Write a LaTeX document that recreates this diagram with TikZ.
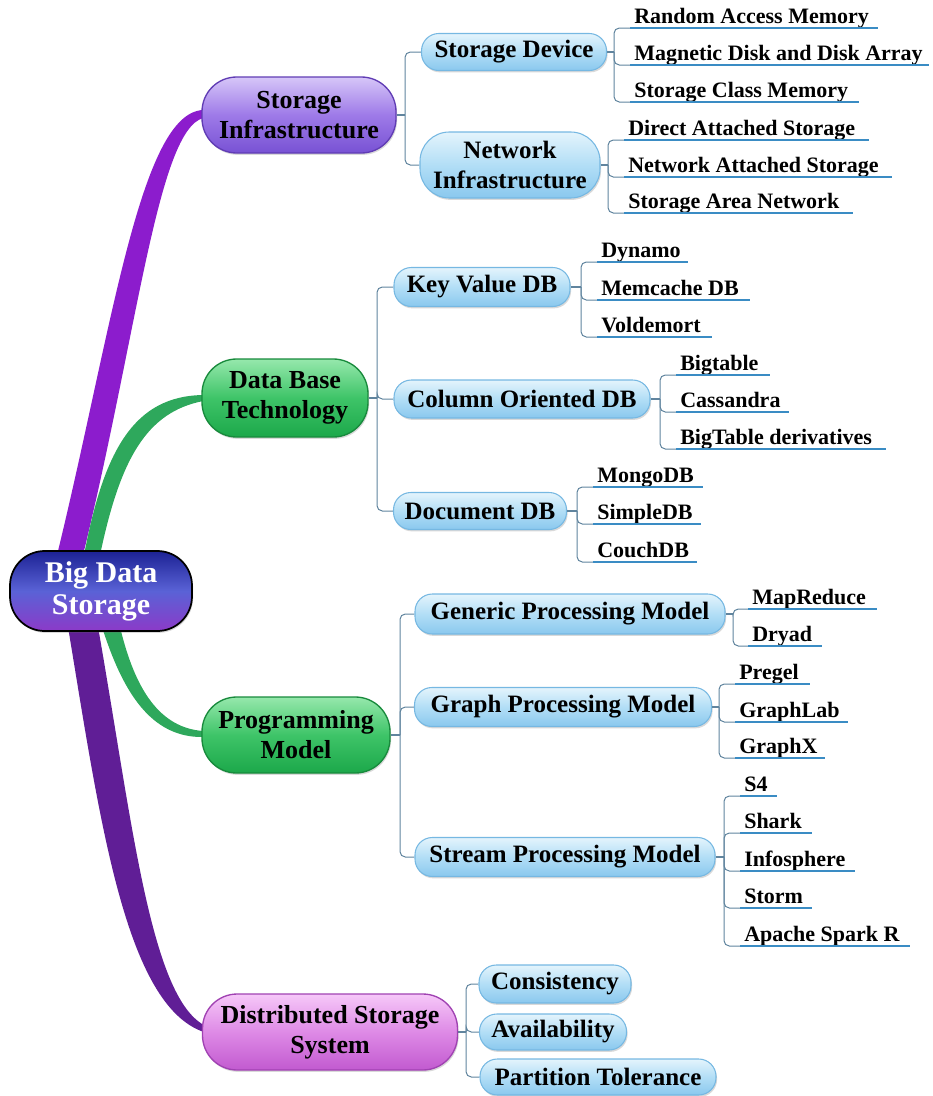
\documentclass[tikz,border=0pt]{standalone}
\usepackage{fontspec}
\setmainfont{Liberation Serif}
\usetikzlibrary{shadows,calc}
\pgfdeclarelayer{bg}
\pgfsetlayers{bg,main}

\definecolor{siTop}{RGB}{214,198,248}
\definecolor{siMid}{RGB}{158,122,232}
\definecolor{siBot}{RGB}{120,82,212}
\definecolor{siLine}{RGB}{96,60,180}
\definecolor{grTop}{RGB}{150,232,172}
\definecolor{grMid}{RGB}{62,196,104}
\definecolor{grBot}{RGB}{28,168,74}
\definecolor{grLine}{RGB}{24,138,60}
\definecolor{dsTop}{RGB}{246,200,248}
\definecolor{dsMid}{RGB}{222,138,230}
\definecolor{dsBot}{RGB}{194,90,208}
\definecolor{dsLine}{RGB}{160,66,178}
\definecolor{rtTop}{RGB}{28,34,148}
\definecolor{rtMid}{RGB}{90,98,214}
\definecolor{rtBot}{RGB}{140,58,200}
\definecolor{sbTop}{RGB}{228,244,252}
\definecolor{sbMid}{RGB}{178,222,246}
\definecolor{sbBot}{RGB}{138,200,238}
\definecolor{sbLine}{RGB}{118,184,226}
\definecolor{brPurple}{RGB}{140,28,205}
\definecolor{brDark}{RGB}{96,30,150}
\definecolor{brGreen}{RGB}{46,168,92}
\definecolor{connC}{RGB}{96,132,158}
\definecolor{ulC}{RGB}{58,140,196}

\tikzset{
  px/.style 2 args={minimum width=#1*0.75pt, minimum height=#2*0.75pt},
  softshadow/.style={drop shadow={shadow xshift=0.8pt, shadow yshift=-1.4pt, opacity=0.25, fill=black!60}},
  mainbox/.style={draw, line width=1pt, rounded corners=26pt, align=center, inner sep=0pt,
    softshadow, font=\fontsize{19.5}{22.5}\selectfont\bfseries},
  rootnode/.style={mainbox, draw=black, line width=1.3pt, top color=rtTop, bottom color=rtBot, middle color=rtMid,
    text=white, font=\fontsize{22.5}{24}\selectfont\bfseries},
  sinode/.style={mainbox, draw=siLine, top color=siTop, bottom color=siBot, middle color=siMid},
  grnode/.style={mainbox, draw=grLine, top color=grTop, bottom color=grBot, middle color=grMid},
  dsnode/.style={mainbox, draw=dsLine, top color=dsTop, bottom color=dsBot, middle color=dsMid},
  subnode/.style={draw=sbLine, line width=0.8pt, rounded corners=13pt, align=center, inner sep=0pt,
    top color=sbTop, bottom color=sbBot, middle color=sbMid, softshadow,
    font=\fontsize{18.75}{22.5}\selectfont\bfseries},
  leaf/.style={inner sep=0pt, font=\fontsize{16.5}{18}\selectfont\bfseries},
  conn/.style={draw=connC, line width=0.8pt},
  thinconn/.style={draw=connC, line width=0.75pt, rounded corners=4pt},
  uline/.style={draw=ulC, line width=2.2pt}
}

\newcommand{\mkleaf}[6]{%
  \node[leaf, anchor=base west] (#1) at (#3+4,#4-5) {#6};
  \coordinate (#1s) at (#3,#4);
  \coordinate (#1e) at (#5,#4);
  \begin{pgfonlayer}{bg}
    \draw[thinconn] (#2) |- (#1s);
  \end{pgfonlayer}
  \draw[uline] (#1s) -- (#1e);
}

\begin{document}
\begin{tikzpicture}[x=0.75pt,y=-0.75pt]
\useasboundingbox (0,0) rectangle (932,1096);

% ---------- main nodes ----------
\node[rootnode, px={182}{80}] (root) at (101,591) {Big Data\\Storage};
\node[sinode, px={194}{76}] (si) at (299,115) {Storage\\Infrastructure};
\node[grnode, px={166}{78}] (dbt) at (285,398) {Data Base\\Technology};
\node[grnode, px={188}{76}] (pm) at (296,735) {Programming\\Model};
\node[dsnode, px={255}{76}] (dss) at (330,1032) {Distributed Storage\\System};

% ---------- sub nodes ----------
\node[subnode, px={185}{37}] (sd) at (514,52) {Storage Device};
\node[subnode, px={180}{66}, rounded corners=22pt] (ni) at (510,165) {Network\\Infrastructure};
\node[subnode, px={176}{39}] (kv) at (482,287) {Key Value DB};
\node[subnode, px={256}{38}] (co) at (522,399) {Column Oriented DB};
\node[subnode, px={173}{37}] (doc) at (480,511) {Document DB};
\node[subnode, px={310}{40}] (gen) at (570,614) {Generic Processing Model};
\node[subnode, px={297}{39}] (gra) at (563,707) {Graph Processing Model};
\node[subnode, px={300}{39}] (str) at (565,857) {Stream Processing Model};
\node[subnode, px={152}{38}] (con) at (555,984) {Consistency};
\node[subnode, px={147}{36}] (ava) at (553,1032) {Availability};
\node[subnode, px={236}{36}] (pt) at (598,1077) {Partition Tolerance};

% ---------- trunk points ----------
\coordinate (sit) at (405,115);
\coordinate (dbtt) at (377,398);
\coordinate (pmt) at (400,735);
\coordinate (dsst) at (466,1032);
\coordinate (sdt) at (614,52);
\coordinate (nit) at (608,165);
\coordinate (kvt) at (581,287);
\coordinate (cot) at (660,399);
\coordinate (doct) at (577,511);
\coordinate (gent) at (733,614);
\coordinate (grat) at (719,707);
\coordinate (strt) at (724,857);

\begin{pgfonlayer}{bg}
% ---------- thick tapered branches ----------
\fill[brPurple] ($(root.north)+(-44,5)$) .. controls (112,330) and (140,112) .. ($(si.west)+(2,-5)$)
  -- ($(si.west)+(2,3)$) .. controls (158,130) and (138,330) .. ($(root.north)+(-18,5)$) -- cycle;
\fill[brGreen] ($(root.north)+(-17,5)$) .. controls (104,450) and (134,396) .. ($(dbt.west)+(2,-3)$)
  -- ($(dbt.west)+(2,3)$) .. controls (146,412) and (120,460) .. ($(root.north)+(-1,5)$) -- cycle;
\fill[brGreen] ($(root.south)+(19,-5)$) .. controls (135,690) and (160,728) .. ($(pm.west)+(2,-4)$)
  -- ($(pm.west)+(2,2)$) .. controls (150,738) and (122,690) .. ($(root.south)+(1,-5)$) -- cycle;
\fill[brDark] ($(root.south)+(-33,-5)$) .. controls (100,820) and (125,1005) .. ($(dss.west)+(2,0)$)
  -- ($(dss.west)+(2,-7)$) .. controls (150,995) and (132,820) .. ($(root.south)+(-3,-5)$) -- cycle;

% ---------- main -> sub connectors ----------
\draw[conn] (si.east) -- (sit);
\draw[thinconn] (sit) |- (sd.west);
\draw[thinconn] (sit) |- (ni.west);
\draw[conn] (dbt.east) -- (dbtt);
\draw[thinconn] (dbtt) |- (kv.west);
\draw[thinconn] (dbtt) |- (co.west);
\draw[thinconn] (dbtt) |- (doc.west);
\draw[conn] (pm.east) -- (pmt);
\draw[thinconn] (pmt) |- (gen.west);
\draw[thinconn] (pmt) |- (gra.west);
\draw[thinconn] (pmt) |- (str.west);
\draw[conn] (dss.east) -- (dsst);
\draw[thinconn] (dsst) |- (con.west);
\draw[thinconn] (dsst) |- (ava.west);
\draw[thinconn] (dsst) |- (pt.west);

% ---------- sub -> leaf trunks ----------
\draw[conn] (sd.east) -- (sdt);
\draw[conn] (ni.east) -- (nit);
\draw[conn] (kv.east) -- (kvt);
\draw[conn] (co.east) -- (cot);
\draw[conn] (doc.east) -- (doct);
\draw[conn] (gen.east) -- (gent);
\draw[conn] (gra.east) -- (grat);
\draw[conn] (str.east) -- (strt);
\end{pgfonlayer}

% ---------- leaves ----------
\mkleaf{ram}{sdt}{630}{28}{878}{Random Access Memory}
\mkleaf{mdda}{sdt}{630}{65}{929}{Magnetic Disk and Disk Array}
\mkleaf{scm}{sdt}{630}{102}{859}{Storage Class Memory}
\mkleaf{das}{nit}{624}{140}{869}{Direct Attached Storage}
\mkleaf{nas}{nit}{624}{177}{892}{Network Attached Storage}
\mkleaf{san}{nit}{624}{213}{853}{Storage Area Network}
\mkleaf{dyn}{kvt}{597}{262}{688}{Dynamo}
\mkleaf{mem}{kvt}{597}{300}{750}{Memcache DB}
\mkleaf{vol}{kvt}{597}{337}{712}{Voldemort}
\mkleaf{bgt}{cot}{676}{375}{770}{Bigtable}
\mkleaf{cas}{cot}{676}{412}{789}{Cassandra}
\mkleaf{btd}{cot}{676}{449}{886}{BigTable derivatives}
\mkleaf{mgo}{doct}{593}{487}{703}{MongoDB}
\mkleaf{sdb}{doct}{593}{524}{701}{SimpleDB}
\mkleaf{cdb}{doct}{593}{562}{697}{CouchDB}
\mkleaf{mpr}{gent}{748}{609}{877}{MapReduce}
\mkleaf{dry}{gent}{748}{646}{822}{Dryad}
\mkleaf{prg}{grat}{735}{684}{810}{Pregel}
\mkleaf{glb}{grat}{735}{722}{848}{GraphLab}
\mkleaf{gx}{grat}{735}{758}{825}{GraphX}
\mkleaf{sfour}{strt}{740}{796}{777}{S4}
\mkleaf{shk}{strt}{740}{833}{812}{Shark}
\mkleaf{inf}{strt}{740}{871}{855}{Infosphere}
\mkleaf{stm}{strt}{740}{908}{812}{Storm}
\mkleaf{asr}{strt}{740}{946}{910}{Apache Spark R}
\end{tikzpicture}
\end{document}
